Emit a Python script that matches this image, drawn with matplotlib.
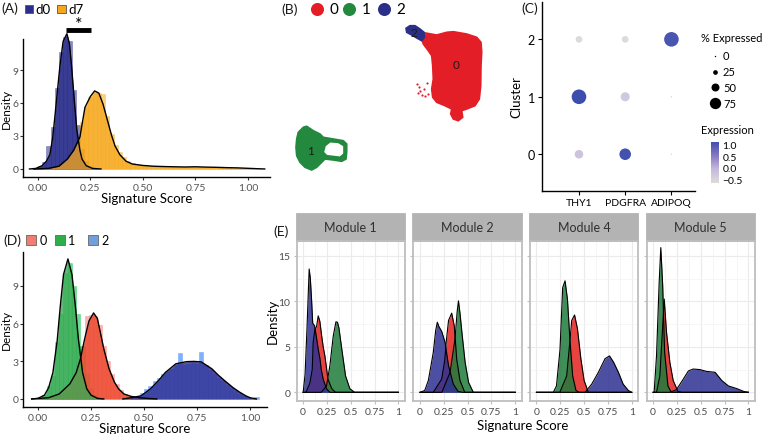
import numpy as np
import matplotlib.pyplot as plt
from matplotlib.colors import LinearSegmentedColormap, Normalize
from matplotlib.path import Path
from matplotlib.patches import PathPatch, Rectangle

plt.rcParams['font.family'] = ['Lato', 'DejaVu Sans']

W, H = 762, 435

# ---------------- (A) d0 / d7 signature score ----------------
a_d0_x = [-0.04, -0.01, 0.02, 0.04, 0.057, 0.07, 0.08, 0.095, 0.105, 0.12, 0.138,
          0.15, 0.16, 0.173, 0.185, 0.20, 0.21, 0.23, 0.26, 0.30]
a_d0_y = [0.0, 0.05, 0.3, 0.7, 1.3, 2.8, 4.6, 7.5, 9.4, 11.6, 12.3,
          11.4, 9.4, 6.3, 3.6, 1.7, 0.9, 0.3, 0.05, 0.0]
a_d7_x = [-0.02, 0.05, 0.10, 0.14, 0.17, 0.20, 0.224, 0.25, 0.27, 0.29, 0.31, 0.33,
          0.35, 0.367, 0.39, 0.42, 0.45, 0.50, 0.55, 0.60, 0.65, 0.70, 0.75, 0.80,
          0.85, 0.90, 0.95, 1.00, 1.05, 1.08]
a_d7_y = [0.0, 0.05, 0.25, 0.9, 1.7, 2.9, 5.6, 6.6, 7.1, 6.9, 5.9, 4.5,
          3.1, 2.1, 1.3, 0.7, 0.45, 0.32, 0.25, 0.22, 0.2, 0.18, 0.2, 0.17,
          0.15, 0.12, 0.1, 0.06, 0.02, 0.0]
hist_w = 0.02
a_d0_start = -0.02
a_d0_hist = [0.05, 0.3, 0.6, 2.1, 3.8, 7.4, 10.6, 12.0, 11.6, 7.2, 4.0, 1.8, 0.7, 0.25, 0.08]
a_d7_start = 0.0
a_d7_hist = [0.05, 0.08, 0.1, 0.15, 0.2, 0.3, 0.5, 0.8, 1.3, 2.0, 4.3, 5.6, 6.5, 7.0,
             6.9, 6.8, 4.8, 3.2, 2.2, 1.5, 1.1, 0.75, 0.55, 0.45, 0.38, 0.3, 0.28,
             0.26, 0.24, 0.22, 0.22, 0.2, 0.21, 0.19, 0.18, 0.2, 0.18, 0.17, 0.2,
             0.17, 0.16, 0.15, 0.16, 0.14, 0.12, 0.13, 0.1, 0.1, 0.08, 0.06, 0.05,
             0.03, 0.02]

# ---------------- (B) UMAP cluster outlines ----------------
b_red_u1 = [2.17, 3.67, 4.67, 5.33, 6.67, 7.67, 8.1, 8.17, 8.1, 8.07, 7.93, 7.5, 6.67,
            6.17, 6.27, 5.83, 5.33, 5.07, 5.17, 4.5, 3.67, 3.27, 3.17, 3.33, 3.27,
            3.17, 2.83, 2.33, 2.17]
b_red_u2 = [8.67, 8.4, 8.67, 8.73, 8.5, 8.17, 7.67, 6.67, 5.33, 3.33, 2.0, 1.33, 1.0,
            0.83, 0.17, -0.17, 0.0, 0.5, 1.0, 1.33, 1.67, 2.17, 3.0, 4.0, 5.33,
            6.33, 6.83, 7.5, 8.0]
b_red_out_u1 = [1.7, 1.9, 2.2, 2.5, 2.8, 2.7, 2.0, 3.0, 2.8, 3.3, 1.8, 2.4]
b_red_out_u2 = [3.5, 3.2, 2.4, 2.3, 2.5, 3.6, 2.8, 6.8, 7.1, 6.0, 2.6, 3.0]
b_blue_u1 = [0.6, 1.0, 1.5, 2.0, 2.4, 2.43, 2.17, 1.73, 1.17, 0.67]
b_blue_u2 = [9.07, 9.33, 9.33, 9.0, 8.67, 8.17, 7.83, 8.07, 8.4, 8.67]
b_green_u1 = [-10.17, -9.67, -9.33, -8.67, -8.0, -7.67, -6.67, -5.67, -5.33, -5.33,
              -5.4, -5.83, -6.67, -7.5, -7.83, -8.33, -8.83, -9.5, -10.0, -10.33,
              -10.4, -10.33]
b_green_u2 = [-1.33, -0.83, -0.73, -1.17, -1.5, -1.83, -2.0, -2.17, -2.5, -3.33,
              -4.0, -4.23, -4.1, -4.0, -4.33, -4.83, -5.1, -4.83, -4.33, -3.67,
              -2.83, -2.0]
b_hole_u1 = [-7.5, -7.0, -6.17, -5.6, -5.6, -6.0, -6.83, -7.33, -7.67]
b_hole_u2 = [-2.67, -2.27, -2.33, -2.67, -3.5, -3.83, -3.73, -3.67, -3.33]
b_label_u1 = [5.57, -8.93, 1.4]
b_label_u2 = [5.43, -3.17, 8.7]

# ---------------- (C) dot plot ----------------
c_genes = ['THY1', 'PDGFRA', 'ADIPOQ']
c_clusters = [0, 1, 2]
c_pct = [[54, 77, 0.5],
         [100, 58, 0.5],
         [40, 40, 100]]
c_expr = [[-0.25, 1.05, -0.6],
          [1.1, -0.35, -0.6],
          [-0.65, -0.65, 1.0]]
c_size_breaks = [0, 25, 50, 75]
c_expr_min, c_expr_max = -0.67, 1.12

# ---------------- (D) clusters signature score ----------------
d_c1_x = [-0.03, 0.0, 0.03, 0.05, 0.07, 0.09, 0.105, 0.12, 0.141, 0.16, 0.176, 0.19,
          0.21, 0.23, 0.25, 0.28, 0.31]
d_c1_y = [0.0, 0.05, 0.3, 0.9, 2.1, 4.6, 7.4, 9.9, 11.15, 9.9, 7.4, 4.8,
          2.1, 0.8, 0.3, 0.05, 0.0]
d_c0_x = [-0.03, 0.05, 0.10, 0.15, 0.18, 0.20, 0.22, 0.24, 0.262, 0.28, 0.31, 0.335,
          0.36, 0.38, 0.405, 0.44, 0.48, 0.52, 0.56]
d_c0_y = [0.0, 0.1, 0.4, 1.2, 2.1, 3.2, 4.8, 6.2, 6.85, 6.4, 4.0, 2.4,
          1.35, 0.8, 0.4, 0.2, 0.1, 0.04, 0.0]
d_c2_x = [0.40, 0.44, 0.486, 0.53, 0.57, 0.60, 0.65, 0.70, 0.735, 0.77, 0.82, 0.85,
          0.88, 0.92, 0.95, 0.98, 1.00, 1.03]
d_c2_y = [0.0, 0.1, 0.25, 0.8, 1.5, 2.1, 2.8, 2.97, 2.99, 2.95, 2.4, 1.9,
          1.46, 0.9, 0.55, 0.25, 0.1, 0.0]
d_c1_start = 0.0
d_c1_hist = [0.1, 0.3, 1.0, 1.8, 4.5, 6.8, 10.0, 10.8, 9.0, 6.8, 4.2, 2.0, 0.9, 0.3, 0.1]
d_c0_start = 0.0
d_c0_hist = [0.05, 0.08, 0.1, 0.15, 0.2, 0.3, 0.4, 0.6, 1.0, 1.8, 4.2, 6.6, 6.7, 6.6,
             5.9, 4.2, 3.0, 2.0, 1.2, 0.75, 0.4, 0.25, 0.15, 0.08, 0.04]
d_c2_start = 0.44
d_c2_hist = [0.05, 0.2, 0.45, 0.8, 1.0, 1.4, 1.7, 2.0, 2.2, 2.4, 2.7, 3.66, 2.7, 2.8,
             2.9, 2.8, 3.7, 2.7, 2.3, 2.0, 1.7, 1.4, 1.1, 0.85, 0.6, 0.4, 0.25, 0.12,
             0.08, 0.12]

# ---------------- (E) module densities ----------------
e_modules = ['Module 1', 'Module 2', 'Module 4', 'Module 5']
m1_red_x = [0.0, 0.03, 0.07, 0.095, 0.105, 0.123, 0.14, 0.158, 0.175, 0.193, 0.21, 0.228, 0.26, 0.30, 0.34, 1.0]
m1_red_y = [0.0, 0.0, 1.0, 2.5, 5.5, 6.9, 7.2, 8.4, 7.8, 6.3, 5.0, 4.0, 1.45, 0.4, 0.0, 0.0]
m1_green_x = [0.0, 0.19, 0.245, 0.28, 0.316, 0.344, 0.36, 0.375, 0.41, 0.445, 0.49, 0.54, 1.0]
m1_green_y = [0.0, 0.0, 0.7, 2.9, 6.2, 7.75, 7.7, 7.1, 4.4, 1.8, 0.4, 0.0, 0.0]
m1_blue_x = [0.0, 0.02, 0.04, 0.063, 0.075, 0.088, 0.10, 0.12, 0.14, 0.16, 0.176, 0.19, 0.21, 0.245, 0.28, 1.0]
m1_blue_y = [0.0, 2.0, 7.0, 13.55, 12.5, 10.2, 7.6, 7.3, 6.0, 4.6, 3.7, 2.5, 1.45, 0.4, 0.0, 0.0]

m2_red_x = [0.0, 0.14, 0.228, 0.26, 0.275, 0.30, 0.333, 0.36, 0.386, 0.42, 0.47, 1.0]
m2_red_y = [0.0, 0.0, 1.45, 3.5, 5.5, 7.9, 8.7, 7.3, 3.6, 1.3, 0.0, 0.0]
m2_green_x = [0.0, 0.23, 0.316, 0.368, 0.39, 0.404, 0.42, 0.44, 0.474, 0.51, 0.56, 1.0]
m2_green_y = [0.0, 0.0, 2.2, 5.9, 8.8, 10.05, 8.7, 6.6, 3.3, 1.1, 0.0, 0.0]
m2_blue_x = [0.0, 0.05, 0.088, 0.14, 0.165, 0.182, 0.20, 0.228, 0.263, 0.30, 0.35, 0.40, 0.45, 1.0]
m2_blue_y = [0.0, 0.2, 1.3, 4.4, 6.8, 7.7, 7.2, 6.7, 5.5, 2.9, 0.9, 0.1, 0.0, 0.0]

m4_red_x = [0.0, 0.245, 0.317, 0.35, 0.37, 0.40, 0.43, 0.466, 0.50, 0.545, 1.0]
m4_red_y = [0.0, 0.0, 1.8, 5.5, 7.9, 8.5, 7.0, 3.7, 1.3, 0.0, 0.0]
m4_green_x = [0.0, 0.177, 0.21, 0.247, 0.275, 0.30, 0.325, 0.353, 0.38, 0.415, 0.45, 1.0]
m4_green_y = [0.0, 0.0, 0.7, 4.7, 11.5, 12.25, 10.25, 5.5, 1.8, 0.2, 0.0, 0.0]
m4_blue_x = [0.0, 0.51, 0.58, 0.65, 0.72, 0.767, 0.81, 0.86, 0.91, 0.965, 1.0]
m4_blue_y = [0.0, 0.0, 0.9, 2.2, 3.7, 4.0, 3.3, 2.2, 0.9, 0.2, 0.0]

m5_red_x = [0.0, 0.035, 0.07, 0.10, 0.116, 0.14, 0.175, 0.21, 0.26, 0.30, 1.0]
m5_red_y = [0.0, 0.0, 1.8, 7.3, 10.25, 6.6, 3.3, 1.3, 0.1, 0.0, 0.0]
m5_green_x = [0.0, 0.01, 0.035, 0.063, 0.08, 0.10, 0.12, 0.155, 0.19, 1.0]
m5_green_y = [0.0, 0.0, 4.0, 12.1, 15.9, 11.7, 4.4, 0.7, 0.0, 0.0]
m5_blue_x = [0.0, 0.175, 0.245, 0.316, 0.37, 0.42, 0.49, 0.56, 0.65, 0.72, 0.79, 0.88, 0.95, 1.0]
m5_blue_y = [0.0, 0.0, 0.3, 1.45, 2.35, 2.56, 2.5, 2.3, 2.2, 1.3, 0.7, 0.4, 0.1, 0.0]

e_red = [(m1_red_x, m1_red_y), (m2_red_x, m2_red_y), (m4_red_x, m4_red_y), (m5_red_x, m5_red_y)]
e_green = [(m1_green_x, m1_green_y), (m2_green_x, m2_green_y), (m4_green_x, m4_green_y), (m5_green_x, m5_green_y)]
e_blue = [(m1_blue_x, m1_blue_y), (m2_blue_x, m2_blue_y), (m4_blue_x, m4_blue_y), (m5_blue_x, m5_blue_y)]

fig = plt.figure(figsize=(W / 100, H / 100), dpi=100)


def box(x0, y0, x1, y1):
    # pixel box, top-left origin -> figure fraction
    return [x0 / W, 1 - y1 / H, (x1 - x0) / W, (y1 - y0) / H]


def hist_bars(ax, start, heights, color, alpha=0.55):
    lefts = start + hist_w * np.arange(len(heights))
    ax.bar(lefts, heights, width=hist_w, align='edge', color=color, alpha=alpha,
           edgecolor=color, linewidth=0.4, clip_on=False)


def density(ax, x, y, color, alpha=0.85, lw=1.0):
    ax.fill_between(x, y, 0, color=color, alpha=alpha, linewidth=0, clip_on=False)
    ax.plot(x, y, color='black', lw=lw, clip_on=False, solid_joinstyle='round')


def classic(ax):
    for s in ['top', 'right']:
        ax.spines[s].set_visible(False)
    for s in ['left', 'bottom']:
        ax.spines[s].set_linewidth(1.0)
    ax.tick_params(length=2.5, width=0.8, color='#333333', labelcolor='#555555',
                   labelsize=7.5, pad=1.5)
    ax.tick_params(axis='y', pad=1)


score_ticks = [0, 0.25, 0.5, 0.75, 1.0]
score_labels = ['0.00', '0.25', '0.50', '0.75', '1.00']

# ---- A ----
axA = fig.add_axes(box(23, 40, 270, 178))
hist_bars(axA, a_d0_start, a_d0_hist, '#2B2E8C')
hist_bars(axA, a_d7_start, a_d7_hist, '#F6A81C')
density(axA, a_d0_x, a_d0_y, '#2B2E8C')
density(axA, a_d7_x, a_d7_y, '#F6A81C', alpha=0.75)
axA.set_xlim(-0.071, 1.105)
axA.set_ylim(-0.73, 11.82)
axA.set_xticks(score_ticks, score_labels)
axA.set_yticks([0, 3, 6, 9])
classic(axA)
axA.set_xlabel('Signature Score', fontsize=9.5, labelpad=0.5)
axA.set_ylabel('Density', fontsize=8.5)
axA.yaxis.set_label_coords(-11 / 247, 0.5)
axA.plot([0.133, 0.252], [12.6, 12.6], color='black', lw=3.5, clip_on=False,
         solid_capstyle='butt')
axA.text(0.195, 12.5, '*', ha='center', va='bottom', fontsize=13)

# ---- B ----
axB = fig.add_axes(box(285, 15, 510, 200))
axB.set_xlim(-11.5, 11.0)
axB.set_ylim(-8.0, 10.5)
axB.axis('off')
axB.fill(b_red_u1, b_red_u2, color='#E41E26', lw=1.2, edgecolor='#E41E26')
axB.scatter(b_red_out_u1, b_red_out_u2, s=2.5, color='#E41E26', lw=0)
outer = np.column_stack([b_green_u1, b_green_u2])
hole = np.column_stack([b_hole_u1, b_hole_u2])


def signed_area(p):
    return 0.5 * np.sum(p[:, 0] * np.roll(p[:, 1], -1) - np.roll(p[:, 0], -1) * p[:, 1])


if np.sign(signed_area(outer)) == np.sign(signed_area(hole)):
    hole = hole[::-1]
verts = np.vstack([outer, outer[:1], hole, hole[:1]])
codes = ([Path.MOVETO] + [Path.LINETO] * (len(outer) - 1) + [Path.CLOSEPOLY] +
         [Path.MOVETO] + [Path.LINETO] * (len(hole) - 1) + [Path.CLOSEPOLY])
axB.add_patch(PathPatch(Path(verts, codes), facecolor='#23893F', edgecolor='#23893F', lw=1.2))
axB.fill(b_blue_u1, b_blue_u2, color='#2B3087', lw=1.2, edgecolor='#2B3087')
for lab, u1, u2 in zip(c_clusters, b_label_u1, b_label_u2):
    axB.text(u1, u2, str(lab), ha='center', va='center', fontsize=8.5, color='#1A1A1A')

# ---- C ----
cmap = LinearSegmentedColormap.from_list('expr', ['#DCDCDC', '#C6B8DC', '#8378C2', '#3A4DAD'])
norm = Normalize(c_expr_min, c_expr_max)


def pct_to_s(p):
    r_px = 0.7 + 0.066 * np.asarray(p, dtype=float)
    return (2 * r_px * 0.72) ** 2


axC = fig.add_axes(box(542, 3, 695, 192))
gx, gy = np.meshgrid(np.arange(len(c_genes)), c_clusters)
axC.scatter(gx.ravel(), gy.ravel(), s=pct_to_s(np.ravel(c_pct)),
            c=np.ravel(c_expr), cmap=cmap, norm=norm, lw=0)
axC.set_xlim(-0.8, 2.51)
axC.set_ylim(-0.64, 2.65)
axC.set_xticks(range(len(c_genes)), c_genes)
axC.set_yticks(c_clusters)
for s in ['top', 'right']:
    axC.spines[s].set_visible(False)
for s in ['left', 'bottom']:
    axC.spines[s].set_linewidth(1.0)
axC.tick_params(axis='x', length=3, width=0.8, labelsize=7.5, pad=2)
axC.tick_params(axis='y', length=3, width=0.8, labelsize=9, pad=2)
axC.set_ylabel('Cluster', fontsize=9.5, labelpad=4)

cax = fig.add_axes(box(711, 143, 719, 184))
grad = np.linspace(c_expr_min, c_expr_max, 200)[:, None]
cax.imshow(grad, cmap=cmap, norm=norm, aspect='auto', origin='lower',
           extent=[0, 1, c_expr_min, c_expr_max])
cax.set_xticks([])
cax.yaxis.tick_right()
cax.set_yticks([-0.5, 0.0, 0.5, 1.0])
cax.tick_params(axis='y', length=0, labelsize=7.5, pad=2.5)
for s in cax.spines.values():
    s.set_visible(False)

# ---- D ----
axD = fig.add_axes(box(23, 253, 267, 408))
hist_bars(axD, d_c0_start, d_c0_hist, '#F8766D')
hist_bars(axD, d_c1_start, d_c1_hist, '#00BA38')
hist_bars(axD, d_c2_start, d_c2_hist, '#619CFF', alpha=0.8)
density(axD, d_c0_x, d_c0_y, '#EE4B32')
density(axD, d_c1_x, d_c1_y, '#3AAA55', alpha=0.8)
density(axD, d_c2_x, d_c2_y, '#323296', alpha=0.85)
axD.set_xlim(-0.071, 1.08)
axD.set_ylim(-0.64, 11.7)
axD.set_xticks(score_ticks, score_labels)
axD.set_yticks([0, 3, 6, 9])
classic(axD)
axD.set_xlabel('Signature Score', fontsize=9.5, labelpad=0.5)
axD.set_ylabel('Density', fontsize=8.5)
axD.yaxis.set_label_coords(-11 / 244, 0.5)

# ---- E ----
e_left = [296.7, 413.5, 530.0, 646.7]
for i, name in enumerate(e_modules):
    ax = fig.add_axes(box(e_left[i], 241.7, e_left[i] + 108, 401.7))
    ax.set_xlim(-0.068, 1.066)
    ax.set_ylim(-0.92, 16.66)
    ax.set_xticks(score_ticks, ['0', '0.25', '0.5', '0.75', '1'])
    ax.set_xticks([0.125, 0.375, 0.625, 0.875], minor=True)
    ax.set_yticks([0, 5, 10, 15])
    ax.set_yticks([2.5, 7.5, 12.5], minor=True)
    ax.grid(which='major', color='#EBEBEB', lw=0.8)
    ax.grid(which='minor', color='#F3F3F3', lw=0.5)
    ax.set_axisbelow(True)
    for s in ax.spines.values():
        s.set_color('#BEBEBE')
        s.set_linewidth(1.3)
    ax.tick_params(which='major', length=2.5, width=0.8, color='#BEBEBE',
                   labelcolor='#4D4D4D', labelsize=7.5, pad=2)
    ax.tick_params(which='minor', length=0)
    if i > 0:
        ax.tick_params(axis='y', labelleft=False)
    for (x, y), col in zip([e_red[i], e_green[i], e_blue[i]], ['#E3221E', '#1E7B3B', '#2E3192']):
        ax.fill_between(x, y, 0, color=col, alpha=0.85, linewidth=0)
        ax.plot(x, y, color='black', lw=0.8)
    ax.add_patch(Rectangle((0, 1.0), 1, 26.7 / 160, transform=ax.transAxes,
                           facecolor='#B3B3B3', edgecolor='#B3B3B3', lw=1.3, clip_on=False))
    ax.text(0.5, 1.0 + 13.3 / 160, name, transform=ax.transAxes, ha='center',
            va='center', fontsize=9, color='#303030')

# ---- overlay: panel tags and legends (pixel coordinates) ----
ov = fig.add_axes([0, 0, 1, 1])
ov.set_xlim(0, W)
ov.set_ylim(H, 0)
ov.axis('off')
tag_kw = dict(fontsize=10, va='center', ha='left', color='#1A1A1A')
ov.text(1.5, 9, '(A)', **tag_kw)
ov.text(281.5, 9.5, '(B)', **tag_kw)
ov.text(521, 8.5, '(C)', **tag_kw)
ov.text(3, 240.7, '(D)', **tag_kw)
ov.text(273, 232, '(E)', **tag_kw)

# A legend
for x0, col, lab, tx in [(25, '#2B2E8C', 'd0', 35.7), (57.3, '#F6A81C', 'd7', 68.3)]:
    ov.add_patch(Rectangle((x0, 5.7), 8.3, 8.3, facecolor=col, edgecolor='#555555', lw=0.6))
    ov.text(tx, 9.5, lab, fontsize=9.5, va='center', ha='left')

# B legend
for cx, col, lab, tx in [(316.7, '#E41E26', '0', 329), (349.3, '#23893F', '1', 361.7),
                         (384.3, '#2B3087', '2', 396.7)]:
    ov.scatter([cx], [9.5], s=88, color=col, lw=0)
    ov.text(tx, 9.5, lab, fontsize=11, va='center', ha='left')

# C legends
ov.text(701, 39, '% Expressed', fontsize=8, va='center', ha='left')
for yy, br in zip([57, 72.7, 88.3, 104], c_size_breaks):
    ov.scatter([715], [yy], s=pct_to_s(br), color='black', lw=0)
    ov.text(723, yy, str(br), fontsize=8, va='center', ha='left')
ov.text(701, 130.7, 'Expression', fontsize=8, va='center', ha='left')

# D legend
for x0, col, lab, tx in [(26, '#F37C72', '0', 39.3), (55, '#2EAD4B', '1', 68.3),
                         (88.3, '#719FDB', '2', 101.7)]:
    ov.add_patch(Rectangle((x0, 235.7), 10, 10, facecolor=col, edgecolor='#666666', lw=0.6))
    ov.text(tx, 240.7, lab, fontsize=9, va='center', ha='left')

# E shared axis titles
ov.text(273, 321, 'Density', fontsize=9.5, rotation=90, va='center', ha='center')
ov.text(523, 426, 'Signature Score', fontsize=9.5, va='center', ha='center')

fig.savefig('out.png', dpi=100)
